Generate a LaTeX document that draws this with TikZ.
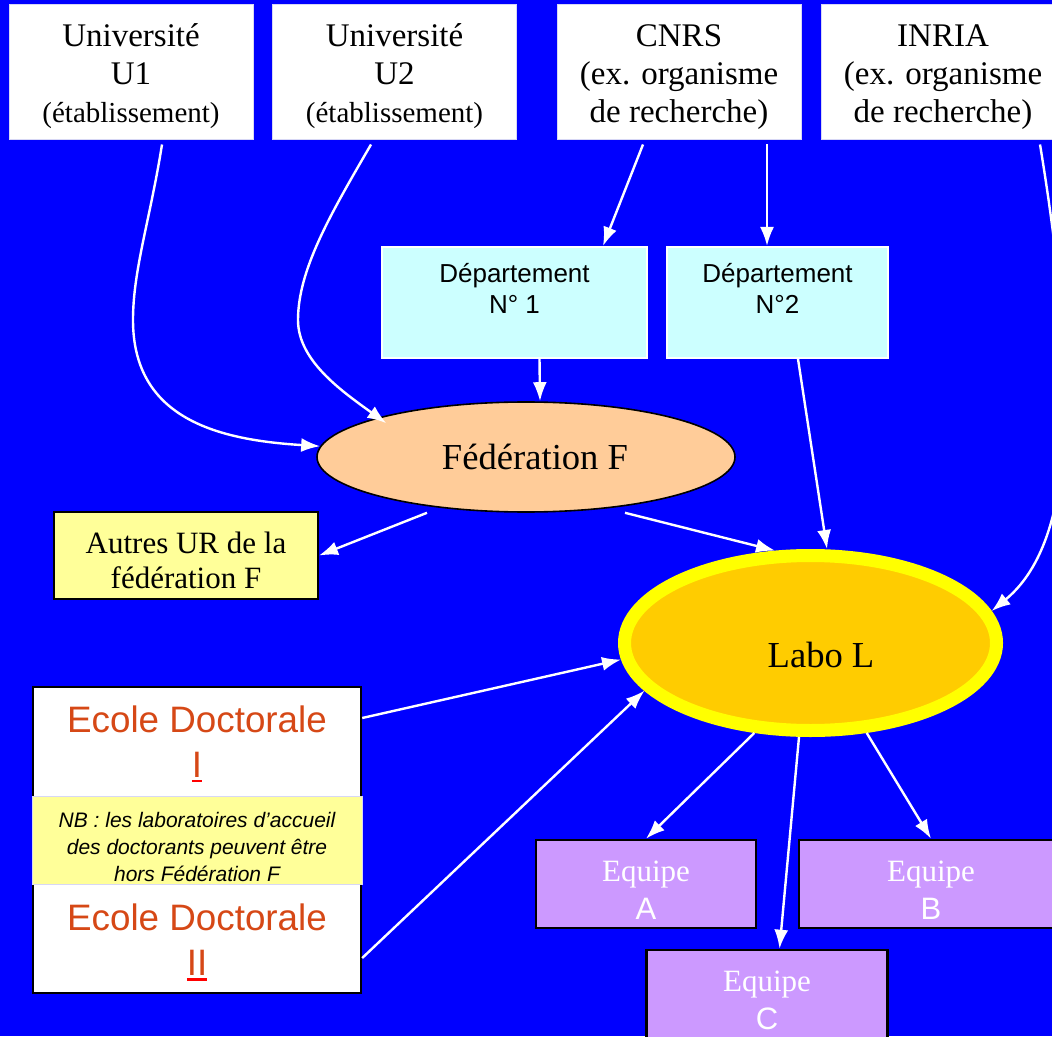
\documentclass[tikz,border=0pt]{standalone}
\usepackage{fontspec}
\setmainfont{Liberation Serif}
\setsansfont{Liberation Sans}
\usepackage{tikz}
\usetikzlibrary{arrows.meta, calc, shapes.geometric, positioning}

\definecolor{bgblue}{RGB}{0,0,255}
\definecolor{deptcyan}{RGB}{204,255,255}
\definecolor{fedpeach}{RGB}{255,204,153}
\definecolor{paleyellow}{RGB}{255,255,153}
\definecolor{laboorange}{RGB}{255,204,0}
\definecolor{laboring}{RGB}{255,255,0}
\definecolor{equipeviolet}{RGB}{204,153,255}
\definecolor{edred}{RGB}{214,72,22}
\definecolor{edge}{RGB}{215,215,245}

\newsavebox\ulbox
\newcommand\romanul[1]{\sbox\ulbox{#1}\rlap{\textcolor{red}{\rule[-2.6pt]{\wd\ulbox}{1.3pt}}}\textcolor{red}{\usebox\ulbox}}
% first-line strut, pushes a text block down inside its box
\newcommand\lowstrut[1]{\rule{0pt}{#1}}

\tikzset{
	auto, semithick,
	org/.style = {rectangle, draw=edge, line width=0.5pt, fill=white, inner sep=0pt,
		minimum width=122pt, minimum height=67.5pt, align=center,
		font=\fontsize{16.5}{19}\selectfont},
	dept/.style = {rectangle, draw=white, line width=1pt, fill=deptcyan, inner sep=0pt,
		minimum height=55.5pt, align=center, font=\sffamily\fontsize{13}{15.5}\selectfont},
	fed/.style = {ellipse, draw=black, line width=0.8pt, fill=fedpeach, inner sep=0pt,
		minimum width=209pt, minimum height=55pt, font=\fontsize{18.3}{20}\selectfont},
	labo/.style = {ellipse, draw=laboring, line width=6.5pt, fill=laboorange, inner sep=0pt,
		minimum width=186pt, minimum height=87.5pt, font=\fontsize{18.3}{20}\selectfont},
	other/.style = {rectangle, draw=black, line width=1pt, fill=paleyellow, inner sep=0pt,
		minimum width=132pt, minimum height=43.5pt, align=center,
		font=\fontsize{15.5}{17.5}\selectfont},
	edbox/.style = {rectangle, draw=black, line width=1.2pt, fill=white, inner sep=0pt,
		minimum width=164pt, minimum height=153pt},
	edtext/.style = {align=center, text=edred, font=\sffamily\fontsize{18.4}{22.5}\selectfont},
	nbbox/.style = {rectangle, draw=edge, line width=0.5pt, fill=paleyellow, inner sep=0pt,
		minimum width=165pt, minimum height=44pt, align=center,
		font=\sffamily\itshape\fontsize{10.5}{13.3}\selectfont},
	team/.style = {rectangle, draw=black, line width=1.3pt, fill=equipeviolet, inner sep=0pt,
		minimum height=44pt, align=center, text=white, font=\fontsize{15.5}{19}\selectfont},
	link/.style = {draw=white, line width=1.2pt, -{Latex[length=9.5pt,width=7pt]}}
}

\begin{document}
\begin{tikzpicture}[x=0.5pt, y=-0.5pt]
	\useasboundingbox (0,0) rectangle (1052,1036);
	\clip (0,0) rectangle (1052,1036);
	\fill[bgblue] (0,0) rectangle (1052,1036);

	% tutelles
	\node[org] (u1) at (131, 72.5) {\lowstrut{15.5pt}Université\\U1\\{\fontsize{14.5}{17}\selectfont(établissement)}};
	\node[org] (u2) at (394.5, 72.5) {\lowstrut{15.5pt}Université\\U2\\{\fontsize{14.5}{17}\selectfont(établissement)}};
	\node[org] (cnrs) at (679, 72.5) {\lowstrut{15.5pt}CNRS\\(ex. organisme\\de recherche)};
	\node[org] (inria) at (943, 72.5) {\lowstrut{15.5pt}INRIA\\(ex. organisme\\de recherche)};

	% departements
	\node[dept, minimum width=132.5pt] (dept1) at (514.5, 302.5) {\lowstrut{11.5pt}Département\\N° 1\\\mbox{}};
	\node[dept, minimum width=110.5pt] (dept2) at (777.5, 302.5) {\lowstrut{11.5pt}Département\\N°2\\\mbox{}};

	\node[fed] (fed) at (526, 457) {\hspace*{9pt}Fédération F};
	\node[other] (autres) at (186, 555.5) {\lowstrut{15.7pt}Autres UR de la\\fédération F};
	\node[labo] (labo) at (810.5, 643) {\raisebox{-12pt}[0pt][0pt]{\hspace*{10.5pt}Labo L}};

	% ecoles doctorales
	\node[edbox] (ed) at (197, 840) {};
	\node[edtext] (ed1) at (197, 744) {Ecole Doctorale\\\romanul{I}};
	\node[nbbox] (nb) at (197, 840) {\lowstrut{14.5pt}NB : les laboratoires d’accueil\\des doctorants peuvent être\\hors Fédération F};
	\node[edtext] (ed2) at (197, 942.5) {Ecole Doctorale\\\romanul{II}};

	% equipes
	\node[team, minimum width=110pt] (eqa) at (646, 884) {\lowstrut{16.9pt}Equipe\\{\sffamily A}};
	\node[team, minimum width=132pt] (eqb) at (931, 884) {\lowstrut{16.9pt}Equipe\\{\sffamily B}};
	\node[team, minimum width=120.5pt, minimum height=45pt] (eqc) at (767, 995) {\lowstrut{15.5pt}Equipe\\{\sffamily C}};

	% Directed edges
	\draw[link] ([xshift=15.5pt, yshift=-2pt]u1.south) .. controls (150,220) and (133,270) .. (133,320)
		.. controls (133,420) and (220,440) .. (fed.177);
	\draw[link, shorten >=-5pt] ([xshift=-11.75pt, yshift=-2pt]u2.south) .. controls (330,215) and (298,270) .. (298,320)
		.. controls (298,360) and (340,390) .. (fed.165);
	\draw[link] ([xshift=-18pt, yshift=-2pt]cnrs.south) -- ([xshift=44.25pt]dept1.north);
	\draw[link] ([xshift=44pt, yshift=-2pt]cnrs.south) -- ([xshift=-5.25pt]dept2.north);
	\draw[link] ([xshift=48.5pt, yshift=-2pt]inria.south) .. controls (1082,400) and (1072,545) .. (labo.10);
	\draw[link] ([xshift=12.5pt]dept1.south) -- ([xshift=7pt]fed.north);
	\draw[link] ([xshift=10.25pt]dept2.south) -- ([xshift=8.25pt]labo.north);
	\draw[link] ([xshift=-49.5pt]fed.south) -- (autres.east);
	\draw[link] ([xshift=49.5pt]fed.south) -- (labo.111);
	\draw[link] ([yshift=61pt]ed.east) -- (labo.185);
	\draw[link] ([yshift=-59pt]ed.east) -- (labo.196);
	\draw[link] (labo.238) -- (eqa.north);
	\draw[link] ([xshift=-5.75pt]labo.south) -- ([xshift=6.25pt]eqc.north);
	\draw[link] (labo.302) -- (eqb.north);
\end{tikzpicture}
\end{document}
